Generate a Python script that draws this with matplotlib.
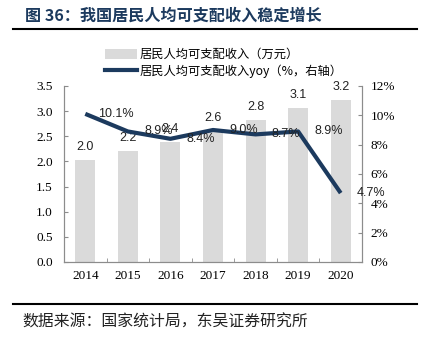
import matplotlib
matplotlib.use("Agg")
import matplotlib.pyplot as plt
from matplotlib.lines import Line2D
from matplotlib.patches import Patch

years = ["2014", "2015", "2016", "2017", "2018", "2019", "2020"]
income = [2.02, 2.20, 2.38, 2.60, 2.82, 3.07, 3.22]
income_labels = ["2.0", "2.2", "2.4", "2.6", "2.8", "3.1", "3.2"]
yoy = [10.1, 8.9, 8.4, 9.0, 8.7, 8.9, 4.7]
yoy_labels = ["10.1%", "8.9%", "8.4%", "9.0%", "8.7%", "8.9%", "4.7%"]

title = "图 36：我国居民人均可支配收入稳定增长"
source = "数据来源：国家统计局，东吴证券研究所"
leg_bar = "居民人均可支配收入（万元）"
leg_line = "居民人均可支配收入yoy（%，右轴）"

CJK = ["Noto Sans CJK SC", "DejaVu Sans"]
SERIF = ["Liberation Serif", "Noto Sans CJK SC"]
SANS = ["Liberation Sans", "DejaVu Sans"]
navy = "#1c3a5e"
bar_c = "#dadada"
axis_c = "#8c8c8c"

W, H = 423, 342
fig = plt.figure(figsize=(W / 100, H / 100), dpi=100)

ax = fig.add_axes([64 / W, 1 - 262 / H, (362 - 64) / W, (262 - 86) / H])
x = list(range(len(years)))
ax.bar(x, income, width=0.47, color=bar_c, zorder=1)
ax.set_ylim(0, 3.5)
ax.set_xlim(-0.5, len(years) - 0.5)
ax.set_yticks([i * 0.5 for i in range(8)])
ax.set_yticklabels([f"{i*0.5:.1f}" for i in range(8)], family=SERIF, fontsize=9.5)
ax.set_xticks(x)
ax.set_xticklabels(years, family=SERIF, fontsize=9.5)
ax.set_xticks([i + 0.5 for i in range(-1, len(years))], minor=True)
ax.tick_params(axis="x", which="major", length=0, pad=6)
ax.tick_params(axis="x", which="minor", length=3, direction="in", color=axis_c)
ax.tick_params(axis="y", length=3, direction="in", color=axis_c, pad=8)
for s in ["top"]:
    ax.spines[s].set_visible(False)
for s in ["left", "bottom", "right"]:
    ax.spines[s].set_color(axis_c)
for xi, v, lab in zip(x, income, income_labels):
    ax.annotate(lab, (xi, v), xytext=(0, 5), textcoords="offset points",
                ha="center", va="bottom", family=SANS, fontsize=9, color="#222222")

ax2 = ax.twinx()
ax2.plot(x, yoy, color=navy, lw=3, zorder=3, solid_capstyle="butt")
ax2.set_ylim(0, 12)
ax2.set_yticks(range(0, 13, 2))
ax2.set_yticklabels([f"{v}%" for v in range(0, 13, 2)], family=SERIF, fontsize=9.5)
ax2.tick_params(axis="y", length=3, direction="in", color=axis_c, pad=6)
ax2.spines["top"].set_visible(False)
for s in ["left", "bottom", "right"]:
    ax2.spines[s].set_color(axis_c)
for xi, v, lab in zip(x, yoy, yoy_labels):
    ax2.annotate(lab, (xi, v), xytext=(22, 0), textcoords="offset points",
                 ha="center", va="center", family=SANS, fontsize=9, color="#222222")

handles = [Patch(facecolor=bar_c, edgecolor="none"),
           Line2D([0], [0], color=navy, lw=3)]
fig.legend(handles, [leg_bar, leg_line], loc="center left", bbox_to_anchor=(98 / W, 1 - 63 / H),
           frameon=False, prop={"family": CJK, "size": 8.8}, handlelength=2.6,
           handleheight=0.9, labelspacing=0.3, handletextpad=0.2, borderpad=0.1)

fig.text(25 / W, 1 - 16 / H, title, family=CJK, fontsize=11.6, fontweight="bold",
         color="#1c3a5e", ha="left", va="center")
fig.add_artist(Line2D([13 / W, 417 / W], [1 - 29 / H, 1 - 29 / H], color="black", lw=1.5))
fig.add_artist(Line2D([13 / W, 417 / W], [1 - 304 / H, 1 - 304 / H], color="black", lw=1.5))
fig.text(22 / W, 1 - 322 / H, source, family=CJK, fontsize=11.4, color="#222222",
         ha="left", va="center")

fig.savefig("out.png", dpi=100)
